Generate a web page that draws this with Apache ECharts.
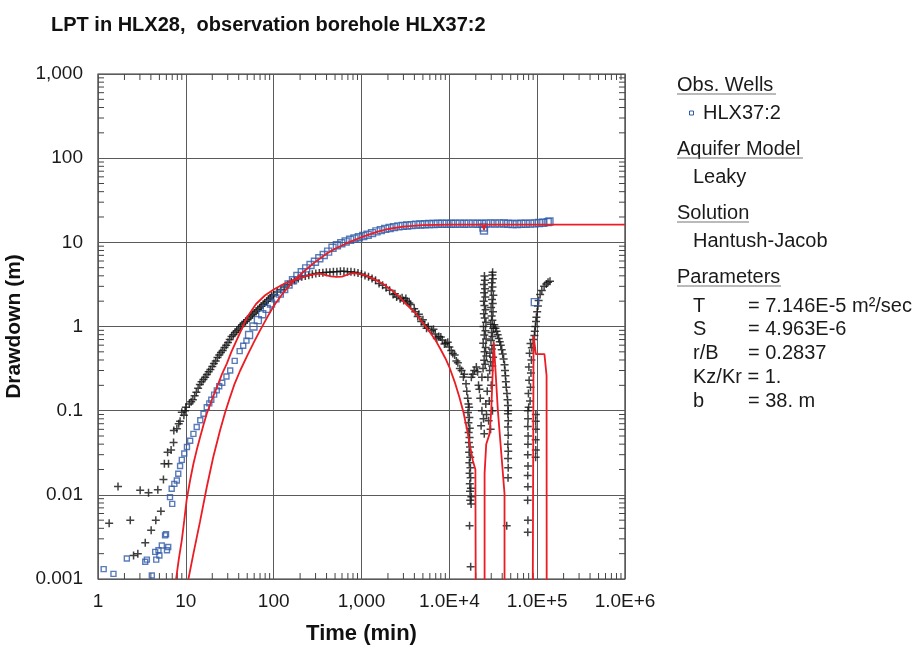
<!DOCTYPE html>
<html>
<head>
<meta charset="utf-8">
<script src="https://cdn.jsdelivr.net/npm/echarts@6/dist/echarts.min.js"></script>
<style>
html,body{margin:0;padding:0;background:#fff;}
#chart{width:921px;height:651px;}
</style>
</head>
<body>
<div id="chart"></div>
<script>
// ---------- data ----------
const chartTitle = 'LPT in HLX28,  observation borehole HLX37:2';
const xTickLabels = ['1', '10', '100', '1,000', '1.0E+4', '1.0E+5', '1.0E+6'];
const yTickLabels = ['0.001', '0.01', '0.1', '1', '10', '100', '1,000'];

// observed drawdown, HLX37:2 (blue squares): [time min, drawdown m]
const obsDrawdown = [
  [1.16,0.00131],[1.5,0.00115],[2.13,0.00175],[3.45,0.0016],[3.6,0.0017],[4.1,0.0011],[4.48,0.0021],
  [4.6,0.0017],[4.88,0.0022],[5.0,0.0019],[5.33,0.0025],[5.8,0.0033],[5.95,0.0034],[6.1,0.0022],
  [6.3,0.0024],[6.6,0.0094],[6.9,0.0118],[7.0,0.0078],[7.4,0.0135],[7.9,0.0148],[8.2,0.0178],
  [8.6,0.022],[9.0,0.026],[9.6,0.031],[10.3,0.037],[11.2,0.044],[12.2,0.053],[13.3,0.064],
  [14.6,0.077],[15.9,0.092],[17.3,0.11],[18.5,0.122],[19.5,0.135],[21,0.155],[22.5,0.174],
  [24,0.195],[26,0.215],[29,0.255],[32,0.30],[36,0.39],[41,0.51],[45,0.59],[49,0.68],
  [52.5,0.794],[58.9,1.0],[66.1,1.19],[74.1,1.40],[83.2,1.62],[93.3,1.88],[104.7,2.16],[117.5,2.46],
  [131.8,2.79],[147.9,3.16],[166,3.55],[186.2,3.98],[208.9,4.42],[234.4,4.90],[263,5.37],[295.1,5.89],
  [331.1,6.46],[371.5,7.08],[416.9,7.76],[467.7,8.61],[524.8,9.23],[588.8,9.77],[660.7,10.23],
  [741.3,10.72],[831.8,11.09],[933.3,11.48],[1047,11.89],[1175,12.30],[1318,12.88],[1479,13.49],
  [1660,13.96],[1862,14.45],[2089,14.79],[2344,15.14],[2630,15.49],[2951,15.67],[3311,15.85],
  [3715,16.03],[4169,16.22],[4677,16.29],[5248,16.41],[5888,16.48],[6607,16.52],[7413,16.6],
  [8318,16.6],[9333,16.65],[10470,16.6],[11750,16.65],[13180,16.7],[14790,16.6],[16600,16.7],
  [18620,16.7],[20890,16.65],[23440,16.6],[24500,15.0],[24800,13.8],[26300,16.7],[29510,16.8],
  [33110,16.7],[37150,16.8],[41690,16.75],[46770,16.6],[52480,16.5],[58880,16.5],[66070,16.6],
  [74130,16.6],[83180,16.7],[93330,16.8],[104700,17.0],[117500,17.1],[131800,17.4],[138000,17.7],
  [94000,1.95]
];

// observed derivative (black crosses): [time min, value m]
const obsDerivative = [
  [1.34,0.0046],[1.69,0.0126],[2.33,0.005],[2.54,0.0019],[2.84,0.002],[3.02,0.0113],[3.45,0.0027],
  [3.76,0.0106],[4.03,0.0038],[4.55,0.005],[4.8,0.0115],[5.2,0.0064],[5.56,0.0152],[5.7,0.0234],
  [6.2,0.032],[6.35,0.0234],[6.8,0.034],[7.25,0.042],[7.3,0.058],[7.9,0.061],[8.3,0.07],[8.6,0.075],
  [9.0,0.096],[9.5,0.088],[9.8,0.1],
  [10,0.11],[10.96,0.12],[12.02,0.135],[13.18,0.166],[14.45,0.204],[15.85,0.234],[17.38,0.269],
  [19.05,0.309],[20.89,0.363],[22.91,0.427],[25.12,0.49],[27.54,0.562],[30.2,0.646],[33.11,0.759],
  [36.31,0.851],[39.81,0.933],[43.65,1.047],[47.86,1.148],[52.48,1.259],[57.54,1.38],[63.1,1.514],
  [69.18,1.66],[75.86,1.82],[83.18,1.995],[91.2,2.188],[100,2.399],[109.6,2.57],[120.2,2.754],
  [131.8,2.951],[144.5,3.162],[158.5,3.388],[173.8,3.548],[190.5,3.715],[208.9,3.89],[229.1,3.981],
  [251.2,4.074],[275.4,4.169],[302,4.266],[331.1,4.315],[363.1,4.365],[398.1,4.416],[436.5,4.416],
  [478.6,4.467],[524.8,4.467],[575.4,4.519],[631,4.519],[691.8,4.467],[758.6,4.467],[831.8,4.416],
  [912,4.315],[1000,4.217],[1096,4.027],[1202,3.89],[1318,3.715],[1445,3.548],[1585,3.236],
  [1738,3.09],[1905,2.884],[2089,2.692],[2291,2.399],[2512,2.239],[2754,2.138],[3020,2.042],
  [3311,1.995],[3631,1.82],[3981,1.622],[4365,1.318],[4786,1.148],[5248,1.047],[5754,1.0],
  [6310,0.891],[6918,0.813],[7586,0.759],[8318,0.692],[9120,0.631],[10000,0.569],[10960,0.479],
  [12020,0.389],[13180,0.316],[14450,0.251],[15490,0.209],
  [11.5,0.128],[12.6,0.15],[13.8,0.185],[15.1,0.22],[16.6,0.25],[18.2,0.29],[20,0.335],[21.9,0.39],
  [24,0.46],[26.3,0.52],[28.8,0.6],[31.6,0.7],[34.7,0.8],[38,0.89],[41.7,0.99],[45.7,1.1],[50,1.2],
  [55,1.32],[60,1.45],[66,1.58],[72,1.74],[79,1.9],[87,2.1],[95,2.3],
  [2400,2.45],[2900,2.2],[3200,2.15],[3500,1.9],[4100,1.5],[4500,1.4],[5000,1.2],[5500,0.95],
  [6600,0.93],[7200,0.72],[8000,0.75],[8800,0.62],[9600,0.65],[10500,0.52],[11500,0.46],
  [12500,0.37],[13800,0.3],[14800,0.27],
  [15800,0.17],[16200,0.14],[16500,0.12],[16800,0.11],[16300,0.095],[16900,0.083],[16500,0.072],
  [17100,0.062],[16600,0.055],[17000,0.048],[16700,0.042],[17200,0.037],[16800,0.032],[17300,0.028],
  [16900,0.024],[17400,0.021],[17000,0.018],[17500,0.016],[17100,0.0135],[17600,0.012],[17200,0.011],
  [17800,0.0095],[17300,0.0086],[17700,0.0078],[17000,0.0043],[17500,0.0014],
  [17800,0.25],[18500,0.27],[19200,0.3],[20300,0.33],[21000,0.29],
  [21500,0.2],[22500,0.14],[23000,0.066],[23500,0.1],[24500,0.08],[25000,0.053],[26000,0.12],
  [26500,0.09],[27000,0.17],[28000,0.076],[28500,0.13],[29500,0.06],[30000,0.2],[31000,0.1],
  [27500,0.25],[22000,0.18],[23500,0.25],
  [24200,0.316],[25600,0.355],[24900,0.398],[26400,0.447],[25200,0.501],[25900,0.562],[24300,0.631],
  [26200,0.708],[25000,0.794],[25800,0.891],[24500,1.0],[26100,1.122],[25300,1.259],[24700,1.413],
  [25900,1.585],[25100,1.778],[24600,1.995],[25700,2.239],[24900,2.512],[25500,2.818],[24800,3.162],
  [25400,3.548],[25100,3.981],
  [28800,0.3],[30800,0.34],[29500,0.38],[31500,0.43],[29000,0.48],[30500,0.54],[31800,0.6],
  [29800,0.68],[31000,0.76],[30200,0.85],[31600,0.95],[29600,1.06],[30900,1.19],[30300,1.33],
  [31400,1.5],[29900,1.68],[31200,1.88],[30600,2.1],[31700,2.35],[30100,2.65],[31000,2.95],
  [30400,3.3],[31300,3.7],[30800,4.1],[31100,4.4],
  [32500,1.05],[33500,0.95],[34500,0.88],[35500,0.8],[36500,0.72],[37500,0.66],[38500,0.6],
  [39500,0.53],[40500,0.47],[41500,0.41],[42500,0.35],[43000,0.3],[43500,0.26],[44000,0.22],
  [44500,0.19],[45300,0.16],[46000,0.135],[46500,0.115],[46800,0.1],[46400,0.092],[46900,0.076],
  [46500,0.064],[46800,0.051],[46400,0.04],[46900,0.033],[46600,0.027],[46800,0.021],[46600,0.016],
  [45000,0.0043],
  [78200,0.0036],[78500,0.005],[78000,0.0086],[78400,0.0125],[78100,0.017],[78600,0.022],[78200,0.03],
  [78500,0.04],[78800,0.05],[78300,0.065],[78700,0.08],[78400,0.1],[96000,0.028],[96500,0.034],
  [96200,0.045],[96700,0.06],[96300,0.075],[96600,0.09],
  [80000,0.11],[83000,0.13],[79500,0.16],[84000,0.19],[81000,0.23],[85000,0.28],[80500,0.33],
  [86000,0.4],[82000,0.48],[87000,0.56],[84000,0.63],[90000,0.7],[93000,0.78],[94000,0.88],
  [95500,1.0],[97000,1.15],[98000,1.29],[100000,1.5],[102000,1.75],[104000,2.04],[108000,2.4],
  [113000,2.68],[120000,3.0],[127000,3.2],[133000,3.35],[140000,3.45]
];

// Hantush-Jacob model drawdown (red)
const modelDrawdown = [
  [10.7,0.001],[12.2,0.002],[14.5,0.0048],[17.3,0.0123],[20.5,0.028],[24.5,0.058],[28,0.095],
  [31.9,0.145],[36,0.21],[41.6,0.30],[50,0.45],[60,0.66],[70,0.9],[85,1.3],[100,1.75],[130,2.55],
  [170,3.5],[220,4.5],[300,5.9],[400,7.3],[500,8.4],[700,9.9],[1000,11.5],[1500,13.3],[2000,14.4],
  [3000,15.4],[5000,16.0],[10000,16.2],[24000,16.2],[24800,14.0],[25500,16.2],[100000,16.2],[1000000,16.2]
];

// Hantush-Jacob model derivative (red); 0.00001 = far below the axis
const modelDerivative = [
  [7.75,0.001],[8.3,0.0017],[9.0,0.0029],[9.6,0.005],[10.2,0.0086],[11.2,0.015],[12.2,0.0234],
  [13.3,0.034],[14.5,0.048],[15.9,0.068],[17.3,0.092],[19.8,0.135],[22.6,0.19],[25.7,0.27],
  [29.2,0.36],[33,0.5],[37.7,0.68],[43,0.92],[50,1.3],[63,1.85],[80,2.35],[100,2.75],[130,3.2],
  [160,3.5],[200,3.75],[250,4.05],[300,4.2],[340,4.25],[400,4.05],[450,3.93],[520,3.88],[600,3.92],
  [700,4.15],[800,4.3],[900,4.25],[1000,4.15],[1150,4.0],[1400,3.65],[1770,3.2],[2200,2.7],
  [2720,2.23],[3300,1.8],[4200,1.41],[5000,1.1],[5900,0.88],[7000,0.68],[8000,0.53],[9000,0.42],
  [10000,0.33],[11500,0.22],[13000,0.145],[14500,0.095],[16000,0.058],[17300,0.037],[18500,0.0256],
  [19800,0.02],[20200,0.00001],[25200,0.00001],[25200,0.018],[26300,0.04],[28700,0.053],[30000,0.1],
  [32100,0.65],[35700,0.1],[42500,0.0103],[42500,0.00001],[88000,0.00001],[91000,0.78],[96600,0.47],
  [121000,0.47],[126500,0.45],[128000,0.26],[128600,0.00001]
];

// side panel text
const panelSections = [
  { head: 'Obs. Wells', lines: [] },
  { head: 'Aquifer Model', lines: ['Leaky'] },
  { head: 'Solution', lines: ['Hantush-Jacob'] },
  { head: 'Parameters', lines: [] }
];
const paramNames = ['T', 'S', 'r/B', 'Kz/Kr', 'b'];
const paramValues = ['= 7.146E-5 m\u00B2/sec', '= 4.963E-6', '= 0.2837', '= 1.', '= 38. m'];
const wellName = 'HLX37:2';

// ---------- chart ----------
const FONT = '"Liberation Sans", Arial, sans-serif';
const X_MIN = 1, X_MAX = 1e6, Y_MIN = 0.001, Y_MAX = 1000;
const BLUE = '#2f5aa8', RED = '#ec1c24', BLACK = '#111';

// minor tick positions (2..9 within each decade)
const minorTicks = [];
for (let d = 0; d < 6; d++) for (let k = 2; k <= 9; k++) minorTicks.push([k * Math.pow(10, d), Y_MIN, 0]);
for (let d = -3; d < 3; d++) for (let k = 2; k <= 9; k++) minorTicks.push([X_MIN, k * Math.pow(10, d), 1]);

const chart = echarts.init(document.getElementById('chart'), null, { renderer: 'canvas' });

const graphic = [];
function addText(x, y, text, size) {
  graphic.push({ type: 'text', x: x, y: y, silent: true,
    style: { text: text, font: (size || 20) + 'px ' + FONT, fill: '#1a1a1a', align: 'left', verticalAlign: 'middle',
             textAlign: 'left', textVerticalAlign: 'middle' } });
}
function addUnderline(x1, x2, y) {
  graphic.push({ type: 'line', silent: true, shape: { x1: x1, y1: y, x2: x2, y2: y },
    style: { stroke: '#777', lineWidth: 1.2 } });
}
const headY = [85, 149, 213, 277];
const headW = [99, 126, 72, 104];
panelSections.forEach((s, i) => {
  addText(677, headY[i], s.head);
  addUnderline(677, 677 + headW[i], headY[i] + 9);
  s.lines.forEach((l, j) => addText(693, headY[i] + 28 + j * 24, l));
});
graphic.push({ type: 'rect', silent: true, shape: { x: 689.5, y: 111, width: 4, height: 4 },
  style: { fill: '#fff', stroke: BLUE, lineWidth: 1 } });
addText(703, 113, wellName);
paramNames.forEach((n, i) => {
  const y = 306 + i * 23.8;
  if (n === 'Kz/Kr') {
    addText(693, y, n + ' ' + paramValues[i]);
  } else {
    addText(693, y, n);
    addText(748, y, paramValues[i]);
  }
});

const option = {
  animation: false,
  backgroundColor: '#fff',
  title: {
    text: chartTitle, left: 51, top: 15, padding: 0,
    textStyle: { fontFamily: FONT, fontSize: 20, fontWeight: 'bold', color: '#111' }
  },
  grid: {
    left: 98, right: 296, top: 74, bottom: 72,
    show: true, borderColor: '#333', borderWidth: 1.2, backgroundColor: 'transparent',
    containLabel: false, outerBoundsMode: 'none'
  },
  xAxis: {
    type: 'log', logBase: 10, min: X_MIN, max: X_MAX, splitNumber: 6,
    name: 'Time (min)', nameLocation: 'middle', nameGap: 44,
    nameTextStyle: { fontFamily: FONT, fontSize: 22, fontWeight: 'bold', color: '#111' },
    axisLine: { show: false }, axisTick: { show: false }, minorTick: { show: false },
    splitLine: { show: true, lineStyle: { color: '#5a5a5a', width: 1 } },
    axisLabel: {
      fontFamily: FONT, fontSize: 19, color: '#1a1a1a', margin: 13,
      showMinLabel: true, showMaxLabel: true, hideOverlap: false,
      formatter: v => xTickLabels[Math.round(Math.log10(v))]
    }
  },
  yAxis: {
    type: 'log', logBase: 10, min: Y_MIN, max: Y_MAX, splitNumber: 6,
    name: 'Drawdown (m)', nameLocation: 'middle', nameGap: 64,
    nameTextStyle: { fontFamily: FONT, fontSize: 21, fontWeight: 'bold', color: '#111' },
    axisLine: { show: false }, axisTick: { show: false }, minorTick: { show: false },
    splitLine: { show: true, lineStyle: { color: '#5a5a5a', width: 1 } },
    axisLabel: {
      fontFamily: FONT, fontSize: 19, color: '#1a1a1a', margin: 15,
      showMinLabel: true, showMaxLabel: true, hideOverlap: false,
      formatter: v => yTickLabels[Math.round(Math.log10(v)) + 3]
    }
  },
  graphic: graphic,
  series: [
    {
      type: 'custom', name: 'minorTicks', silent: true, clip: false,
      dimensions: ['x', 'y', 'k'], encode: { x: 0, y: 1 },
      data: minorTicks,
      renderItem: function (params, api) {
        const v = api.value(api.value(2) === 0 ? 0 : 1);
        const L = 6, st = { stroke: '#444', lineWidth: 1 };
        if (api.value(2) === 0) {
          const b = api.coord([v, Y_MIN]), t = api.coord([v, Y_MAX]);
          return { type: 'group', children: [
            { type: 'line', shape: { x1: b[0], y1: b[1], x2: b[0], y2: b[1] - L }, style: st },
            { type: 'line', shape: { x1: t[0], y1: t[1], x2: t[0], y2: t[1] + L }, style: st }
          ] };
        }
        const l = api.coord([X_MIN, v]), r = api.coord([X_MAX, v]);
        return { type: 'group', children: [
          { type: 'line', shape: { x1: l[0], y1: l[1], x2: l[0] + L, y2: l[1] }, style: st },
          { type: 'line', shape: { x1: r[0], y1: r[1], x2: r[0] - L, y2: r[1] }, style: st }
        ] };
      },
      z: 1
    },
    {
      type: 'scatter', name: 'Derivative', data: obsDerivative,
      symbol: 'path://M5,0 L5,10 M0,5 L10,5', symbolSize: 8,
      itemStyle: { color: 'rgba(0,0,0,0)', borderColor: BLACK, borderWidth: 1.5 },
      emphasis: { disabled: true }, silent: true, z: 2
    },
    {
      type: 'scatter', name: wellName, data: obsDrawdown,
      symbol: 'rect',
      symbolSize: v => (v[0] > 50 && v[1] > 0.5 ? 7 : 5),
      itemStyle: { color: 'rgba(255,255,255,0)', borderColor: BLUE, borderWidth: 1.4 },
      emphasis: { disabled: true }, silent: true, z: 3
    },
    {
      type: 'line', name: 'Model drawdown', data: modelDrawdown, showSymbol: false, symbol: 'none',
      lineStyle: { color: RED, width: 1.8 }, clip: true, silent: true, z: 4
    },
    {
      type: 'line', name: 'Model derivative', data: modelDerivative, showSymbol: false, symbol: 'none',
      lineStyle: { color: RED, width: 1.8 }, clip: true, silent: true, z: 4
    }
  ]
};
chart.setOption(option);
</script>
</body>
</html>
